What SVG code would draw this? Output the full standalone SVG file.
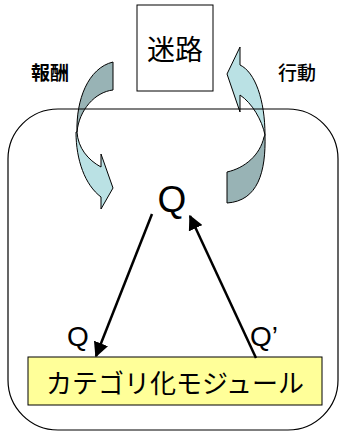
<svg xmlns="http://www.w3.org/2000/svg" width="339" height="432" viewBox="0 0 339 432">
<style>
.jp{font-family:"Noto Sans CJK JP","Noto Sans",sans-serif;fill:#000}
.q{font-family:"Liberation Sans",Arial,sans-serif;fill:#000}
.dark{fill:#98B3B5;stroke:#000;stroke-width:1}
.light{fill:#BAE1E4;stroke:#000;stroke-width:1}
.conn{stroke:#000;stroke-width:2.5;fill:none}
</style>
<defs>
<marker id="ah" viewBox="0 0 10 10" refX="9" refY="5" markerWidth="6" markerHeight="6" markerUnits="strokeWidth" orient="auto">
<path d="M0,0 L10,5 L0,10 Z" fill="#000"/>
</marker>
</defs>
<rect width="339" height="432" fill="#fff"/>
<g id="reward-arrow">
<path class="dark" d="M113,62 L113,90 C95,92 79,110 77,132 C76,100 88,68 113,62 Z"/>
<path class="light" d="M76,132 C76,160 85,185 101,197 L101,209 L113,188 L101,154 L101,167 C88,160 78,148 77,132 Z"/>
<text class="jp" x="50" y="80" font-size="19" font-weight="bold" text-anchor="middle">報酬</text>
</g>
<g id="action-arrow">
<path class="dark" d="M265,135 C266,172 258,201 227,203 L227,172 C245,168 260,155 264,137 Z"/>
<path class="light" d="M240,47 L240,65 C255,72 265,100 265,135 C262,120 252,103 240,95 L240,112 L227,74 Z"/>
<text class="jp" x="297" y="80" font-size="19" font-weight="500" text-anchor="middle">行動</text>
</g>
<g id="maze">
<rect x="137" y="5" width="76" height="86" fill="#fff" stroke="#000" stroke-width="1"/>
<text class="jp" x="175" y="60" font-size="28" text-anchor="middle">迷路</text>
</g>
<g id="agent">
<rect x="8" y="109" width="330" height="321" rx="50" ry="50" fill="none" stroke="#000" stroke-width="1.2"/>
</g>
<g id="q-value">
<text class="q" x="172" y="212" font-size="37" text-anchor="middle">Q</text>
</g>
<g id="category-module">
<rect x="28" y="357" width="294" height="48" fill="#FFFF99" stroke="#000" stroke-width="1"/>
<text class="jp" x="175" y="393" font-size="26" text-anchor="middle">カテゴリ化モジュール</text>
</g>
<g id="connectors">
<line class="conn" x1="152" y1="214" x2="96" y2="356" marker-end="url(#ah)"/>
<line class="conn" x1="256" y1="358" x2="190" y2="216" marker-end="url(#ah)"/>
<text class="q" x="78" y="346" font-size="28" text-anchor="middle">Q</text>
<text class="q" x="250" y="346" font-size="28">Q’</text>
</g>
</svg>
